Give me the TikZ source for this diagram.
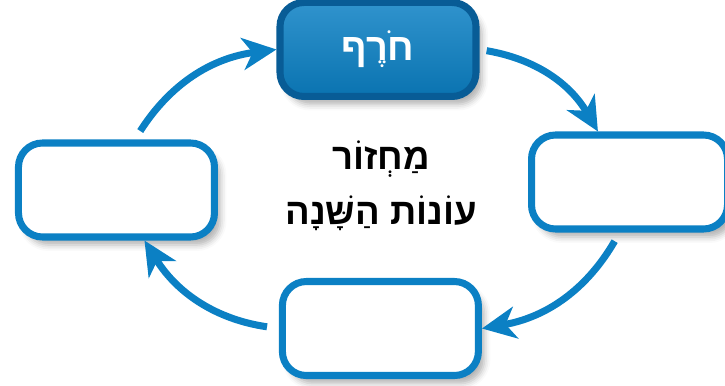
\documentclass[tikz,border=0pt]{standalone}
\usepackage{fontspec}
\usepackage{tikz}
\usetikzlibrary{positioning,arrows.meta,shadows.blur}
\newfontfamily\hebfont[Script=Hebrew]{Liberation Sans}
\TeXXeTstate=1
\definecolor{boxblue}{RGB}{11,128,196}
\definecolor{deepblue}{RGB}{8,92,150}

\begin{document}
\begin{tikzpicture}[
    node distance=2cm,
    block/.style={rectangle, rounded corners=0.6cm, draw=boxblue, line width=5pt, fill=white, minimum width=4.9cm, minimum height=2.35cm, blur shadow={shadow xshift=0.15cm, shadow yshift=-0.2cm, shadow opacity=30, shadow blur radius=0.15cm}},
    heading/.style={block, top color=boxblue!85!white, bottom color=boxblue!90!black, draw=deepblue, text=white, font=\hebfont\bfseries\fontsize{27}{30}\selectfont},
    title/.style={align=center, font=\hebfont\bfseries\fontsize{26}{39}\selectfont},
    arrow/.style={line width=5pt, draw=boxblue, -{Stealth[length=0.85cm, width=0.8cm, inset=0.25cm]}}
]
    \useasboundingbox (-9.45,-4.9) rectangle (8.675,4.75);

    % Nodes
    \coordinate (hub) at (0,0);
    \node[heading, above=2.25cm of hub] (winter) {\beginR חֹרֶף\endR};
    \node[block, right=3.75cm of hub, yshift=0.2cm] (spring) {};
    \node[block, below=2.2cm of hub, xshift=0.06cm] (summer) {};
    \node[block, left=4cm of hub] (autumn) {};
    \node[title] (cycle) at (0.075,0.1) {\beginR מַחְזוֹר\endR\\ \beginR עוֹנוֹת הַשָּׁנָה\endR};

    % Arrows
    \draw[arrow, shorten <=0.18cm] (winter.east) to[bend left=25] (spring.122);
    \draw[arrow, shorten <=0.25cm] (spring.259) to[bend left=25] (summer.east);
    \draw[arrow, shorten <=0.3cm] (summer.west) to[bend left=25] (autumn.299);
    \draw[arrow, shorten <=0.25cm] (autumn.70) to[bend left=25] (winter.west);
\end{tikzpicture}
\end{document}
